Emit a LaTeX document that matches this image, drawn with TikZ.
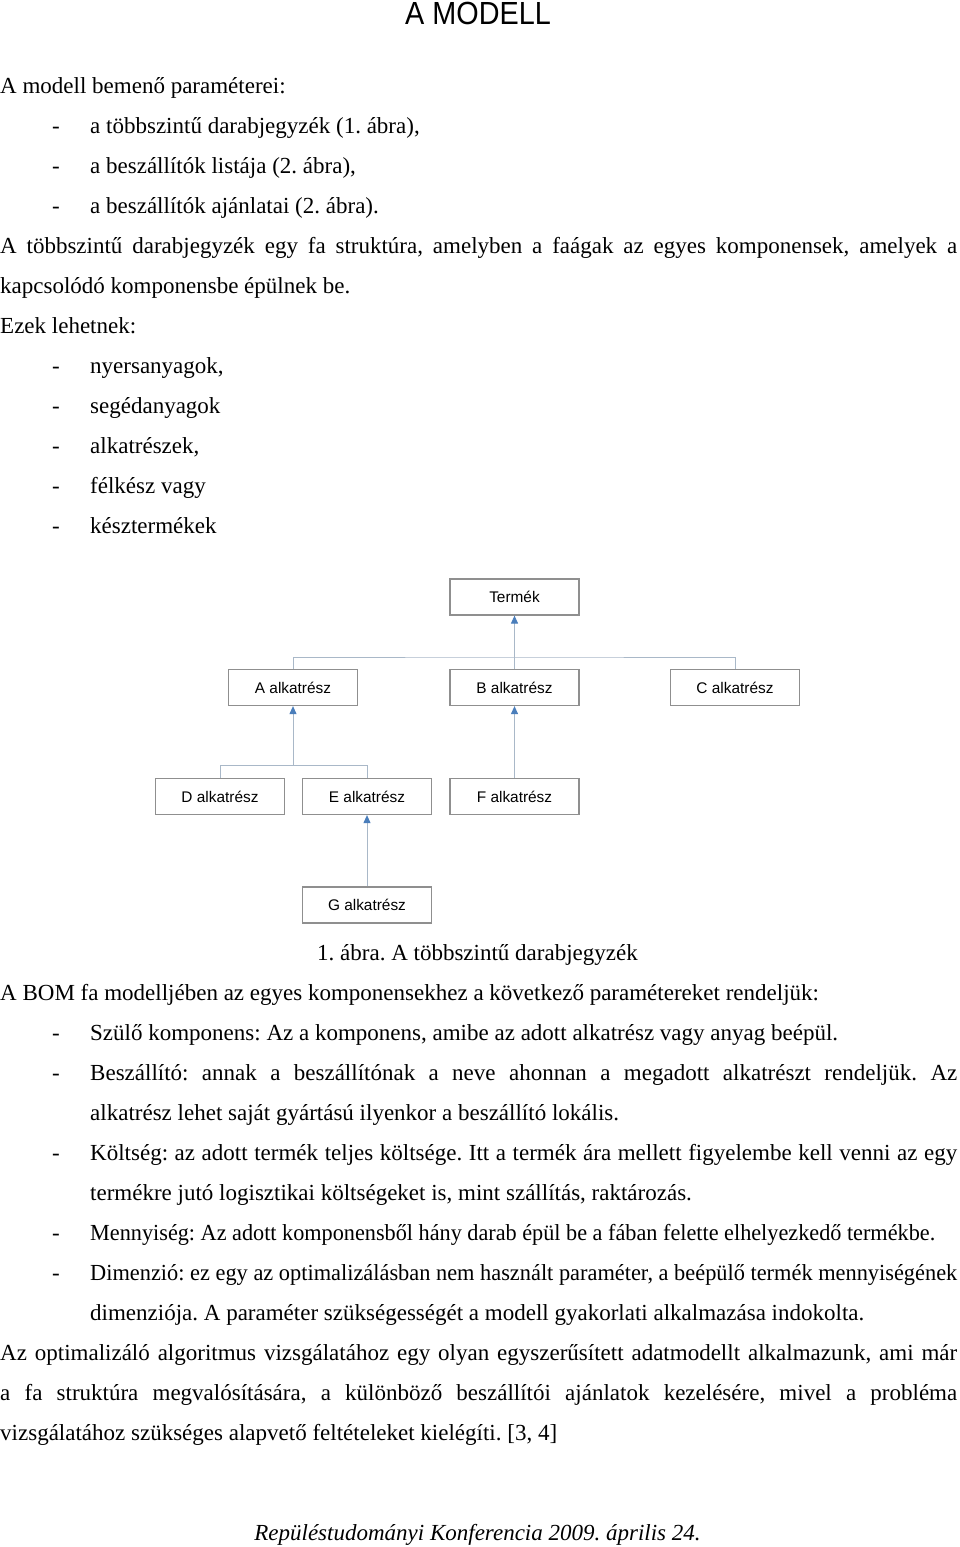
\documentclass[tikz,border=0pt]{standalone}
\usepackage{fontspec}
\usepackage{graphicx}
\setmainfont{Liberation Serif}
\newfontfamily\arialf{Liberation Sans}
\newfontfamily\titlef[FakeStretch=0.9]{Liberation Sans}
\usetikzlibrary{arrows.meta}
\definecolor{boxgray}{HTML}{8F8F8F}
\definecolor{conngray}{HTML}{A9B8C8}
\definecolor{arrowblue}{HTML}{4A7EBB}
\newsavebox\fitbx
\newcommand\jl[2]{\sbox\fitbx{#2}\ifdim\wd\fitbx>#1\relax\resizebox{#1}{\height}{\usebox\fitbx}\else\makebox[#1][s]{#2}\fi}
\newcommand\dsh{\makebox[38pt][l]{-}}
\frenchspacing
\begin{document}
\frenchspacing
\begin{tikzpicture}[x=1pt,y=-1pt,
 txt/.style={anchor=base west,inner sep=0pt,font=\frenchspacing\fontsize{23}{23}\selectfont},
 part/.style={draw=boxgray,line width=1.2pt,minimum width=129pt,minimum height=36pt,inner sep=0pt,font=\arialf\fontsize{15.4}{16}\selectfont},
 conn/.style={draw=conngray,line width=1pt},
 arr/.style={conn,-{Triangle[length=8pt,width=7pt,color=arrowblue]}}]
\useasboundingbox (0,0) rectangle (960,1547);
\fill[white] (0,0) rectangle (960,1547);

\node[anchor=base,inner sep=0pt,font=\titlef\fontsize{32}{32}\selectfont] (title) at (478,24) {A MODELL};

\node[txt] (l1) at (0,93) {A modell bemenő paraméterei:};
\node[txt] (l2) at (52,133) {\dsh a többszintű darabjegyzék (1. ábra),};
\node[txt] (l3) at (52,173) {\dsh a beszállítók listája (2. ábra),};
\node[txt] (l4) at (52,213) {\dsh a beszállítók ajánlatai (2. ábra).};
\node[txt] (l5) at (0,253) {\jl{957pt}{A többszintű darabjegyzék egy fa struktúra, amelyben a faágak az egyes komponensek, amelyek a}};
\node[txt] (l6) at (0,293) {kapcsolódó komponensbe épülnek be.};
\node[txt] (l7) at (0,333) {Ezek lehetnek:};
\node[txt] (l8) at (52,373) {\dsh nyersanyagok,};
\node[txt] (l9) at (52,413) {\dsh segédanyagok};
\node[txt] (l10) at (52,453) {\dsh alkatrészek,};
\node[txt] (l11) at (52,493) {\dsh félkész vagy};
\node[txt] (l12) at (52,533) {\dsh késztermékek};

% diagram
\node[part] (T) at (514.5,597) {Termék};
\node[part] (A) at (293,687.5) {A alkatrész};
\node[part] (B) at (514.5,687.5) {B alkatrész};
\node[part] (C) at (735,687.5) {C alkatrész};
\node[part] (D) at (220,796.5) {D alkatrész};
\node[part] (E) at (367,796.5) {E alkatrész};
\node[part] (F) at (514.5,796.5) {F alkatrész};
\node[part] (G) at (367,905) {G alkatrész};

\coordinate (bus1) at (514.5,657);
\coordinate (bus2) at (293,765);
\draw[conn] (A.north) |- (bus1) -| (C.north);
\draw[arr] (B.north) -- (T.south);
\draw[conn] (D.north) |- (bus2) -| (E.north);
\draw[arr] (bus2) -- (A.south);
\draw[arr] (F.north) -- (B.south);
\draw[arr] (G.north) -- (E.south);

\node[txt,anchor=base] (cap) at (477.5,960) {1. ábra. A többszintű darabjegyzék};

\node[txt] (m1) at (0,1000) {A BOM fa modelljében az egyes komponensekhez a következő paramétereket rendeljük:};
\node[txt] (m2) at (52,1040) {\dsh Szülő komponens: Az a komponens, amibe az adott alkatrész vagy anyag beépül.};
\node[txt] (m3) at (52,1080) {\dsh\jl{867pt}{Beszállító: annak a beszállítónak a neve ahonnan a megadott alkatrészt rendeljük. Az}};
\node[txt] (m4) at (90,1120) {alkatrész lehet saját gyártású ilyenkor a beszállító lokális.};
\node[txt] (m5) at (52,1160) {\dsh\jl{867pt}{Költség: az adott termék teljes költsége. Itt a termék ára mellett figyelembe kell venni az egy}};
\node[txt] (m6) at (90,1200) {termékre jutó logisztikai költségeket is, mint szállítás, raktározás.};
\node[txt] (m7) at (52,1240) {\dsh\jl{845pt}{Mennyiség: Az adott komponensből hány darab épül be a fában felette elhelyezkedő termékbe.}};
\node[txt] (m8) at (52,1280) {\dsh\jl{867pt}{Dimenzió: ez egy az optimalizálásban nem használt paraméter, a beépülő termék mennyiségének}};
\node[txt] (m9) at (90,1320) {dimenziója. A paraméter szükségességét a modell gyakorlati alkalmazása indokolta.};
\node[txt] (m10) at (0,1360) {\jl{957pt}{Az optimalizáló algoritmus vizsgálatához egy olyan egyszerűsített adatmodellt alkalmazunk, ami már}};
\node[txt] (m11) at (0,1400) {\jl{957pt}{a fa struktúra megvalósítására, a különböző beszállítói ajánlatok kezelésére, mivel a probléma}};
\node[txt] (m12) at (0,1440) {vizsgálatához szükséges alapvető feltételeket kielégíti. [3, 4]};

\node[txt,anchor=base,font=\frenchspacing\itshape\fontsize{23}{23}\selectfont] (foot) at (477.5,1540) {Repüléstudományi Konferencia 2009. április 24.};
\end{tikzpicture}
\end{document}
